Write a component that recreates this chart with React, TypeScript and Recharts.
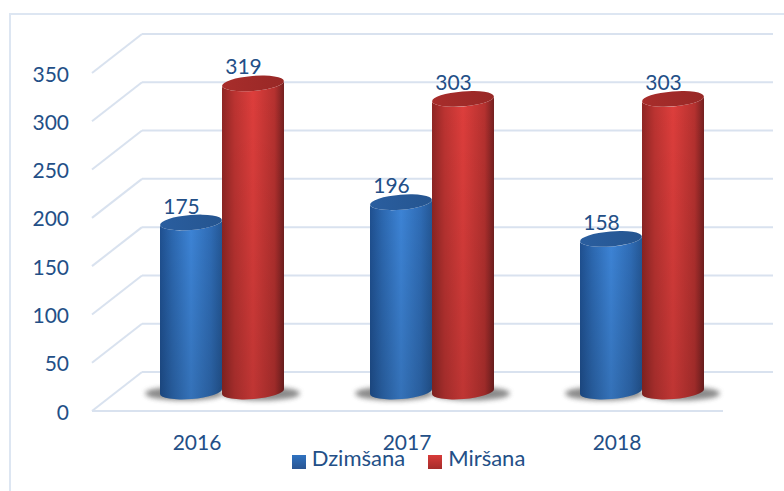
import { BarChart, Bar, XAxis, YAxis, CartesianGrid, Legend, LabelList } from 'recharts';

const years = ['2016', '2017', '2018'];
const dzimsana = [175, 196, 158];
const mirsana = [319, 303, 303];
const yTicks = [0, 50, 100, 150, 200, 250, 300, 350];

const data = years.map((year, i) => ({ year, Dzimšana: dzimsana[i], Miršana: mirsana[i] }));

const FONT = 'Lato, "Open Sans", sans-serif';
const TEXT = '#234f87';
const GRID = '#d9e2ef';
const DEPTH = 19.5;

const TONES = {
  blue: { body: 'url(#blueBody)', cap: 'url(#blueCap)' },
  red: { body: 'url(#redBody)', cap: 'url(#redCap)' },
};

function Cylinder({ x, y, width, height, tone }: any) {
  const rx = width / 2;
  const ry = 7.5;
  const tilt = 2.5;
  const angle = (-Math.atan(tilt / rx) * 180) / Math.PI;
  const cx = x + rx;
  const base = y + height;
  const d = `M${x},${y + tilt} L${x},${base + tilt} A${rx},${ry} ${angle} 0 0 ${x + width},${base - tilt} L${x + width},${y - tilt} A${rx},${ry} ${angle} 0 1 ${x},${y + tilt} Z`;
  const shadowX = tone === 'blue' ? cx - 7 : cx + 8;
  return (
    <g>
      <ellipse cx={shadowX} cy={base + 2} rx={rx + 8} ry={7} fill="#5a5a5a" opacity={0.7} filter="url(#groundBlur)" />
      <path d={d} fill={TONES[tone].body} />
      <path d={d} fill="url(#bodyFade)" />
      <ellipse cx={cx} cy={y} rx={rx} ry={ry} fill={TONES[tone].cap} transform={`rotate(${angle} ${cx} ${y})`} />
    </g>
  );
}

function YTick({ y, payload }: any) {
  return (
    <text x={69} y={y + DEPTH} textAnchor="end" dominantBaseline="central" fontFamily={FONT} fontSize={21} fill={TEXT}>
      {payload.value}
    </text>
  );
}

function XTick({ x, y, payload }: any) {
  return (
    <text x={x - 25} y={y + 42} textAnchor="middle" dominantBaseline="central" fontFamily={FONT} fontSize={21} fill={TEXT}>
      {payload.value}
    </text>
  );
}

// back wall line, side wall line, and the front edge of the floor for the zero line
function GridLine({ x1, x2, y1, index }: any) {
  return (
    <g key={index} stroke={GRID} strokeWidth={2} fill="none">
      <line x1={x1 - 25} y1={y1 + DEPTH} x2={x1 + 25} y2={y1 - DEPTH} />
      <line x1={x1 + 25} y1={y1 - DEPTH} x2={x2 + 26} y2={y1 - DEPTH} />
      {y1 > 380 && <line x1={x1 - 25} y1={y1 + DEPTH} x2={x2 - 24} y2={y1 + DEPTH} />}
    </g>
  );
}

function ValueLabel({ x, y, width, value }: any) {
  return (
    <text x={x + width / 2 - 9.5} y={y - 17.5} textAnchor="middle" dominantBaseline="central" fontFamily={FONT} fontSize={21} fill={TEXT}>
      {value}
    </text>
  );
}

export default function App() {
  return (
    <div style={{ position: 'absolute', left: 0, top: 0, width: 784, height: 491, overflow: 'hidden', background: '#fff' }}>
      <div
        style={{
          position: 'absolute',
          left: 9,
          top: 13,
          width: 775,
          height: 478,
          boxSizing: 'border-box',
          borderLeft: '2px solid #dde6f2',
          borderTop: '2px solid #dde6f2',
        }}
      />
      <BarChart
        width={784}
        height={491}
        data={data}
        margin={{ top: 53.5, right: 37, bottom: 59.5, left: 0 }}
        barCategoryGap={43}
        barGap={0}
        style={{ position: 'absolute', left: 0, top: 0 }}
      >
        <defs>
          <linearGradient id="blueBody" x1="0" y1="0" x2="1" y2="0">
            <stop offset="0" stopColor="#1f5090" />
            <stop offset="0.2" stopColor="#2c68b0" />
            <stop offset="0.5" stopColor="#3d84d6" />
            <stop offset="0.82" stopColor="#2f6cb5" />
            <stop offset="1" stopColor="#245795" />
          </linearGradient>
          <linearGradient id="redBody" x1="0" y1="0" x2="1" y2="0">
            <stop offset="0" stopColor="#8f2624" />
            <stop offset="0.2" stopColor="#bb3331" />
            <stop offset="0.5" stopColor="#de3e3c" />
            <stop offset="0.85" stopColor="#b5312f" />
            <stop offset="1" stopColor="#742020" />
          </linearGradient>
          <linearGradient id="bodyFade" x1="0" y1="0" x2="0" y2="1">
            <stop offset="0" stopColor="#000" stopOpacity={0} />
            <stop offset="1" stopColor="#000" stopOpacity={0.14} />
          </linearGradient>
          <linearGradient id="blueCap" x1="0" y1="0" x2="1" y2="0">
            <stop offset="0" stopColor="#2a5e9f" />
            <stop offset="1" stopColor="#255590" />
          </linearGradient>
          <linearGradient id="redCap" x1="0" y1="0" x2="1" y2="0">
            <stop offset="0" stopColor="#a82d2b" />
            <stop offset="1" stopColor="#982826" />
          </linearGradient>
          <linearGradient id="blueKey" x1="0" y1="0" x2="0" y2="1">
            <stop offset="0" stopColor="#2f72c0" />
            <stop offset="1" stopColor="#2a5592" />
          </linearGradient>
          <linearGradient id="redKey" x1="0" y1="0" x2="0" y2="1">
            <stop offset="0" stopColor="#d83b39" />
            <stop offset="1" stopColor="#a52c2a" />
          </linearGradient>
          <filter id="groundBlur" x="-30%" y="-100%" width="160%" height="300%">
            <feGaussianBlur stdDeviation="2.5" />
          </filter>
        </defs>
        <CartesianGrid vertical={false} horizontal={(props: any) => <GridLine {...props} />} />
        <XAxis dataKey="year" height={40} axisLine={false} tickLine={false} tick={<XTick />} />
        <YAxis width={117} domain={[0, 350]} ticks={yTicks} axisLine={false} tickLine={false} tick={<YTick />} />
        <Legend
          verticalAlign="middle"
          iconType="square"
          iconSize={14}
          wrapperStyle={{ left: 291, top: 444, width: 258, bottom: 'auto', padding: 0, whiteSpace: 'nowrap' }}
          formatter={(value: string) => (
            <span style={{ color: TEXT, fontFamily: FONT, fontSize: 22, marginLeft: 2, marginRight: 13 }}>{value}</span>
          )}
        />
        <Bar
          dataKey="Dzimšana"
          barSize={62}
          fill="url(#blueKey)"
          isAnimationActive={false}
          shape={(p: any) => <Cylinder {...p} tone="blue" />}
        >
          <LabelList dataKey="Dzimšana" content={<ValueLabel />} />
        </Bar>
        <Bar
          dataKey="Miršana"
          barSize={62}
          fill="url(#redKey)"
          isAnimationActive={false}
          shape={(p: any) => <Cylinder {...p} tone="red" />}
        >
          <LabelList dataKey="Miršana" content={<ValueLabel />} />
        </Bar>
      </BarChart>
    </div>
  );
}
